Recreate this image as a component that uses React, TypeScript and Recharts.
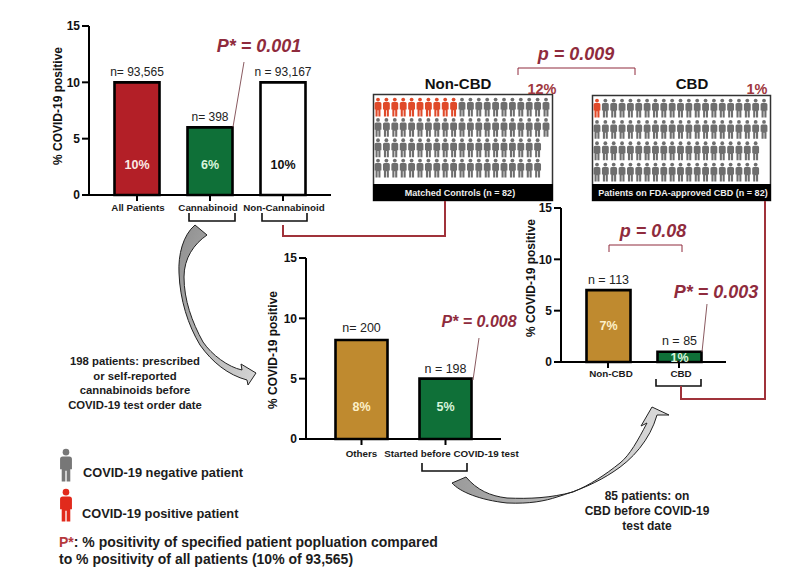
import { Bar, BarChart, Cell, LabelList, Label, Scatter, ScatterChart, XAxis, YAxis } from "recharts"

const FONT = "'Liberation Sans', Arial, sans-serif"
const MAROON = "#8f2b3d"
const LINE_RED = "#a0323a"
const GOLD = "#bf8a2f"
const GREEN = "#0f7038"
const RED = "#b31f27"

// top left chart
const allGroups = ["All Patients", "Cannabinoid", "Non-Cannabinoid"]
const allValues = [10, 6, 10]
const allCounts = ["n= 93,565", "n= 398", "n = 93,167"]
const allPercents = ["10%", "6%", "10%"]
const allColors = [RED, GREEN, "#ffffff"]
const allPercentColors = ["#fbe9e4", "#d9f5dc", "#111111"]

// middle chart
const priorGroups = ["Others", "Started before COVID-19 test"]
const priorValues = [8.2, 5]
const priorCounts = ["n= 200", "n = 198"]
const priorPercents = ["8%", "5%"]
const priorColors = [GOLD, GREEN]
const priorPercentColors = ["#fdf0c8", "#d9f5dc"]

// right chart
const cbdGroups = ["Non-CBD", "CBD"]
const cbdValues = [7, 1]
const cbdCounts = ["n = 113", "n = 85"]
const cbdPercents = ["7%", "1%"]
const cbdColors = [GOLD, GREEN]
const cbdPercentColors = ["#fdf0c8", "#d9f5dc"]

// pictograms: people per row, and how many of them tested positive
const rowCounts = [21, 21, 20, 20]
const nonCbdPositive = 10
const cbdPositive = 1

const yTicks = [0, 5, 10, 15]

function Person({ cx, cy, h, color }: { cx: number; cy: number; h: number; color: string }) {
  const s = h / 20
  return (
    <g transform={`translate(${cx},${cy - h / 2}) scale(${s})`} fill={color}>
      <circle cx={0} cy={2.2} r={2} />
      <path d="M-3.6 6.4 Q-3.6 4.8 -2 4.8 H2 Q3.6 4.8 3.6 6.4 V12.6 H2.6 V20 H0.4 V13.5 H-0.4 V20 H-2.6 V12.6 H-3.6 Z" />
    </g>
  )
}

function makePeople(positive: number) {
  const points: { col: number; row: number; positive: boolean }[] = []
  let seen = 0
  rowCounts.forEach((count, row) => {
    for (let col = 0; col < count; col++) {
      points.push({ col, row, positive: seen < positive })
      seen++
    }
  })
  return points
}

function Pictogram({ left, top, width, height, positive, personH }: any) {
  return (
    <div style={{ position: "absolute", left: left - 6, top: top - 12, width: width + 12, height: height + 24 }}>
      <ScatterChart width={width + 12} height={height + 24} margin={{ top: 12, right: 6, bottom: 12, left: 6 }}>
        <XAxis type="number" dataKey="col" domain={[0, 20]} hide />
        <YAxis type="number" dataKey="row" domain={[0, 3]} reversed hide />
        <Scatter
          data={makePeople(positive)}
          isAnimationActive={false}
          shape={(p: any) => (
            <Person cx={p.cx} cy={p.cy} h={personH} color={p.payload.positive ? "#e04a2a" : "#6e6e6e"} />
          )}
        />
      </ScatterChart>
    </div>
  )
}

function PanelChart({ plot, groups, values, counts, percents, colors, percentColors, barSize, percentLift, tickShift, titleX, titleY, tickY, pad, countSize, countLift }: any) {
  const chartLeft = plot.left - 50
  const chartTop = plot.top - 30
  const plotW = plot.right - plot.left
  const plotH = plot.bottom - plot.top
  const data = groups.map((name: string, i: number) => ({ name, value: values[i], n: counts[i], pct: percents[i] }))

  return (
    <div style={{ position: "absolute", left: chartLeft, top: chartTop }}>
      <BarChart
        width={plotW + 50 + 30}
        height={plotH + 30 + 30}
        data={data}
        margin={{ top: 30, right: 30, left: 0, bottom: 0 }}
        barCategoryGap={0}
      >
        <XAxis
          dataKey="name"
          height={30}
          interval={0}
          padding={{ left: pad, right: pad }}
          axisLine={{ stroke: "#000", strokeWidth: 2 }}
          tickLine={{ stroke: "#000", strokeWidth: 2 }}
          tickSize={6}
          tick={(t: any) => (
            <text
              x={t.x + tickShift[t.index]}
              y={plot.bottom + tickY - chartTop}
              textAnchor="middle"
              fontFamily={FONT}
              fontSize={9.8}
              fontWeight="bold"
              fill="#1a1a1a"
            >
              {t.payload.value}
            </text>
          )}
        />
        <YAxis
          width={50}
          domain={[0, 15]}
          ticks={yTicks}
          interval={0}
          axisLine={{ stroke: "#000", strokeWidth: 2 }}
          tickLine={{ stroke: "#000", strokeWidth: 2 }}
          tickSize={7}
          tickMargin={2}
          tick={{ fontFamily: FONT, fontSize: 12, fontWeight: "bold", fill: "#111" }}
        >
          <Label
            content={() => (
              <text
                transform={`translate(${titleX - chartLeft},${titleY - chartTop}) rotate(-90)`}
                textAnchor="middle"
                dominantBaseline="central"
                fontFamily={FONT}
                fontSize={12}
                fontWeight="bold"
                fill="#111"
              >
                % COVID-19 positive
              </text>
            )}
          />
        </YAxis>
        <Bar dataKey="value" barSize={barSize} stroke="#000" strokeWidth={2.6} isAnimationActive={false}>
          {data.map((d: any, i: number) => (
            <Cell key={d.name} fill={colors[i]} />
          ))}
          <LabelList
            dataKey="n"
            content={(p: any) => {
              const box = p.viewBox ?? p
              return (
                <text
                  x={box.x + box.width / 2}
                  y={box.y - countLift[p.index]}
                  textAnchor="middle"
                  dominantBaseline="central"
                  fontFamily={FONT}
                  fontSize={countSize}
                  fill="#222"
                >
                  {p.value}
                </text>
              )
            }}
          />
          <LabelList
            dataKey="pct"
            content={(p: any) => {
              const box = p.viewBox ?? p
              return (
                <text
                  x={box.x + box.width / 2}
                  y={box.y + box.height - percentLift[p.index]}
                  textAnchor="middle"
                  dominantBaseline="central"
                  fontFamily={FONT}
                  fontSize={12.5}
                  fontWeight="bold"
                  fill={percentColors[p.index]}
                >
                  {p.value}
                </text>
              )
            }}
          />
        </Bar>
      </BarChart>
    </div>
  )
}

function Stat({ x, y, size = 18, children }: any) {
  return (
    <text
      x={x}
      y={y}
      textAnchor="middle"
      dominantBaseline="central"
      fontFamily={FONT}
      fontSize={size}
      fontWeight="bold"
      fontStyle="italic"
      fill={MAROON}
    >
      {children}
    </text>
  )
}

function Note({ x, y, children, size = 11.3, anchor = "middle" }: any) {
  return (
    <text
      x={x}
      y={y}
      textAnchor={anchor}
      dominantBaseline="central"
      fontFamily={FONT}
      fontSize={size}
      fontWeight="bold"
      fill="#1c1c1c"
    >
      {children}
    </text>
  )
}

function Bracket({ x1, x2, top, bottom }: any) {
  return <path d={`M${x1} ${top} V${bottom} H${x2} V${top}`} fill="none" stroke="#111" strokeWidth={1.6} />
}

export default function App() {
  return (
    <div style={{ position: "fixed", left: 0, top: 0, width: 800, height: 583, background: "#fff", overflow: "hidden" }}>
      <svg width={800} height={583} style={{ position: "absolute", left: 0, top: 0 }}>
        <rect x={373.5} y={94.5} width={179} height={106} fill="#fff" stroke="#333" strokeWidth={1.5} />
        <rect x={373} y={184} width={180} height={17} fill="#000" />
        <rect x={592.5} y={95.5} width={178} height={105} fill="#fff" stroke="#333" strokeWidth={1.5} />
        <rect x={592} y={184} width={179} height={17} fill="#000" />
      </svg>

      <Pictogram left={378} top={107} width={168} height={61} positive={nonCbdPositive} personH={19} />
      <Pictogram left={597} top={108} width={167} height={64} positive={cbdPositive} personH={19} />

      <PanelChart
        plot={{ left: 89, right: 331, top: 26, bottom: 195 }}
        groups={allGroups}
        values={allValues}
        counts={allCounts}
        percents={allPercents}
        colors={allColors}
        percentColors={allPercentColors}
        barSize={45}
        pad={11.5}
        percentLift={[30, 30, 30]}
        tickShift={[1, -2, 1]}
        titleX={58}
        titleY={106}
        tickY={16}
        countSize={12}
        countLift={[10, 10, 10]}
      />
      <PanelChart
        plot={{ left: 306, right: 501, top: 258, bottom: 439 }}
        groups={priorGroups}
        values={priorValues}
        counts={priorCounts}
        percents={priorPercents}
        colors={priorColors}
        percentColors={priorPercentColors}
        barSize={52}
        pad={13.5}
        percentLift={[32, 32]}
        tickShift={[0, 6]}
        titleX={273}
        titleY={350}
        tickY={18}
        countSize={12.5}
        countLift={[12, 10]}
      />
      <PanelChart
        plot={{ left: 561, right: 726, top: 208, bottom: 362 }}
        groups={cbdGroups}
        values={cbdValues}
        counts={cbdCounts}
        percents={cbdPercents}
        colors={cbdColors}
        percentColors={cbdPercentColors}
        barSize={44}
        pad={11.5}
        percentLift={[36, 4]}
        tickShift={[3, 2]}
        titleX={531}
        titleY={278}
        tickY={15}
        countSize={12.5}
        countLift={[10, 11]}
      />

      <svg width={800} height={583} style={{ position: "absolute", left: 0, top: 0 }}>
        <defs>
          <linearGradient id="arrowDown" x1="0" y1="0" x2="1" y2="1">
            <stop offset="0" stopColor="#8e8e8e" />
            <stop offset="1" stopColor="#d6d6d6" />
          </linearGradient>
          <linearGradient id="arrowUp" x1="0" y1="0" x2="1" y2="0">
            <stop offset="0" stopColor="#9a9a9a" />
            <stop offset="1" stopColor="#dcdcdc" />
          </linearGradient>
        </defs>

        {/* stats */}
        <Stat x={259} y={46}>P* = 0.001</Stat>
        <Stat x={576} y={54}>p = 0.009</Stat>
        <Stat x={479} y={321} size={16}>P* = 0.008</Stat>
        <Stat x={653} y={231}>p = 0.08</Stat>
        <Stat x={716} y={292}>P* = 0.003</Stat>
        <path d="M244 62 L233 127" stroke="#8a5a60" strokeWidth={1} />
        <path d="M479 338 L473 380" stroke="#8a5a60" strokeWidth={1} />
        <path d="M707 304 L702 352" stroke="#8a5a60" strokeWidth={1} />
        <path d="M518 75 V68 H635 V75" fill="none" stroke={MAROON} strokeWidth={1} />
        <path d="M609 252 V245 H682 V252" fill="none" stroke={MAROON} strokeWidth={1} />

        {/* pictogram titles */}
        <text x={458} y={83} textAnchor="middle" dominantBaseline="central" fontFamily={FONT} fontSize={15} fontWeight="bold" fill="#111">Non-CBD</text>
        <text x={692} y={83} textAnchor="middle" dominantBaseline="central" fontFamily={FONT} fontSize={15} fontWeight="bold" fill="#111">CBD</text>
        <text x={542} y={89} textAnchor="middle" dominantBaseline="central" fontFamily={FONT} fontSize={14.5} fontWeight="bold" fill="#a0393f">12%</text>
        <text x={757} y={89} textAnchor="middle" dominantBaseline="central" fontFamily={FONT} fontSize={14.5} fontWeight="bold" fill="#a0393f">1%</text>
        <text x={460} y={193} textAnchor="middle" dominantBaseline="central" fontFamily={FONT} fontSize={9} fontWeight="bold" fill="#eee">Matched Controls (n = 82)</text>
        <text x={683} y={193} textAnchor="middle" dominantBaseline="central" fontFamily={FONT} fontSize={9} fontWeight="bold" fill="#eee">Patients on FDA-approved CBD (n = 82)</text>

        {/* brackets and connectors */}
        <Bracket x1={189} x2={235} top={213} bottom={221} />
        <Bracket x1={262} x2={307} top={213} bottom={221} />
        <Bracket x1={422} x2={467} top={463} bottom={471} />
        <Bracket x1={656} x2={701} top={379} bottom={386} />
        <path d="M283 225 V236 H445 V201" fill="none" stroke={LINE_RED} strokeWidth={2} />
        <path d="M765 201 V399 H681 V386" fill="none" stroke={LINE_RED} strokeWidth={2} />

        {/* curved arrows */}
        <path
          d="M195 225 C183 235 178 255 179 273 C180 300 188 325 200 345 C212 362 228 375 247 380 L248 385 L256 373 L241 364 L242 370 C228 367 212 355 203 342 C192 322 184 300 184 277 C184 258 194 244 207 235 Z"
          fill="url(#arrowDown)"
          stroke="#222"
          strokeWidth={1}
        />
        <path
          d="M452 483 C460 492 480 500 507 503 C530 504 545 501 557 497 C580 490 598 482 613 472 C632 460 650 440 657 415 L669 415 L652 407 L641 426 L647 423 C638 440 630 455 620 463 C605 475 590 485 573 492 C550 498 530 499 507 498 C490 496 477 490 466 477 Z"
          fill="url(#arrowUp)"
          stroke="#222"
          strokeWidth={1}
        />

        {/* side notes */}
        <Note x={135} y={361}>198 patients: prescribed</Note>
        <Note x={135} y={376}>or self-reported</Note>
        <Note x={135} y={390}>cannabinoids before</Note>
        <Note x={135} y={405}>COVID-19 test order date</Note>
        <Note x={647} y={496} size={12}>85 patients: on</Note>
        <Note x={647} y={511} size={12}>CBD before COVID-19</Note>
        <Note x={647} y={526} size={12}>test date</Note>

        {/* legend */}
        <Person cx={66} cy={465} h={33} color="#777777" />
        <Person cx={66} cy={505} h={33} color="#e12a1c" />
        <Note x={83} y={472} anchor="start" size={12.8}>COVID-19 negative patient</Note>
        <Note x={82} y={513} anchor="start" size={12.8}>COVID-19 positive patient</Note>

        <Note x={59} y={542} anchor="start" size={14}>
          <tspan fill="#b5383c">P*</tspan>: % positivity of specified patient popluation compared
        </Note>
        <Note x={59} y={559} anchor="start" size={14}>to % positivity of all patients (10% of 93,565)</Note>
      </svg>
    </div>
  )
}
